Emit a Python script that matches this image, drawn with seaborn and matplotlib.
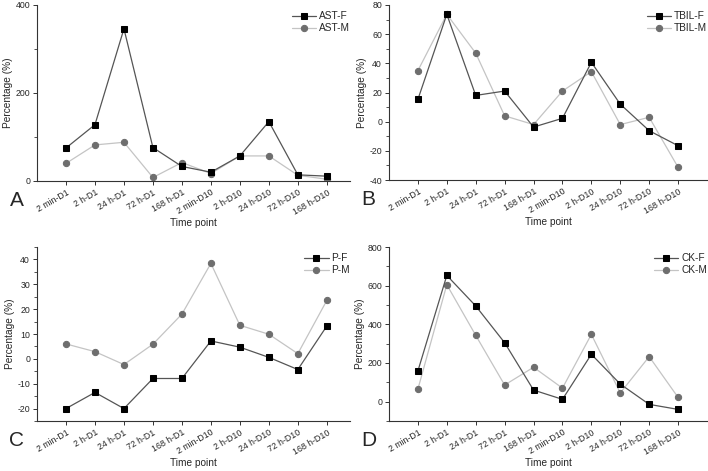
import numpy as np
import pandas as pd
import matplotlib
matplotlib.use("Agg")
import matplotlib.pyplot as plt
from matplotlib.ticker import MultipleLocator
import seaborn as sns

sns.set_style("ticks")
plt.rcParams['font.family'] = ['Liberation Sans', 'DejaVu Sans']
plt.rcParams['axes.unicode_minus'] = False

categories = ["2 min-D1", "2 h-D1", "24 h-D1", "72 h-D1", "168 h-D1",
              "2 min-D10", "2 h-D10", "24 h-D10", "72 h-D10", "168 h-D10"]

ast_f = [75, 128, 346, 76, 33, 20, 57, 135, 14, 11]
ast_m = [40, 82, 88, 8, 42, 17, 57, 57, 13, 4]
tbil_f = [15.3, 73.6, 18, 21, -3.7, 2.3, 40.7, 12, -6.2, -16.5]
tbil_m = [35, 73.6, 47, 4, -2, 21, 34.3, -2, 3, -31.3]
p_f = [-20, -13.5, -20, -7.9, -7.9, 7.2, 4.7, 0.6, -4.3, 13.2]
p_m = [6, 2.9, -2.3, 5.9, 18, 38.4, 13.5, 9.9, 2.1, 23.5]
ck_f = [159, 653, 495, 305, 60, 12, 245, 91, -14, -40]
ck_m = [65, 605, 343, 86, 178, 70, 348, 45, 233, 22]

panels = [
    ("A", "AST", ast_f, ast_m, (0, 400), 200, 100),
    ("B", "TBIL", tbil_f, tbil_m, (-40, 80), 20, 10),
    ("C", "P", p_f, p_m, (-25, 45), 10, 5),
    ("D", "CK", ck_f, ck_m, (-100, 800), 200, 100),
]

W, H = 708, 471
fig = plt.figure(figsize=(W / 100, H / 100), dpi=100)

boxes = {
    "A": (37, 350, 5, 181),
    "B": (389, 707, 5, 180),
    "C": (37, 350, 247, 421),
    "D": (389, 707, 247, 421),
}

for letter, name, fvals, mvals, ylim, major, minor in panels:
    l, r, t, b = boxes[letter]
    ax = fig.add_axes([l / W, 1 - b / H, (r - l) / W, (b - t) / H])
    df = pd.DataFrame({"time": categories, "F": fvals, "M": mvals})
    sns.lineplot(data=df, x="time", y="M", ax=ax, color="#c4c4c4",
                 marker="o", markersize=4.5, markerfacecolor="#6e6e6e",
                 markeredgecolor="#6e6e6e", linewidth=0.9, sort=False,
                 label=f"{name}-M")
    sns.lineplot(data=df, x="time", y="F", ax=ax, color="#555555",
                 marker="s", markersize=4.5, markerfacecolor="black",
                 markeredgecolor="black", linewidth=0.9, sort=False,
                 label=f"{name}-F")
    ax.set_xlim(-1, 10 if letter in "BD" else 9.8)
    ax.set_ylim(*ylim)
    ax.yaxis.set_major_locator(MultipleLocator(major))
    ax.yaxis.set_minor_locator(MultipleLocator(minor))
    ax.set_xticks(range(len(categories)))
    ax.set_xticklabels(categories, rotation=30, ha="right",
                       rotation_mode="anchor", fontsize=6.3)
    ax.tick_params(axis="y", which="major", labelsize=6.3, length=3,
                   width=0.7, pad=2, color="#333333")
    ax.tick_params(axis="y", which="minor", length=2, width=0.6,
                   color="#333333", left=True)
    ax.tick_params(axis="x", length=3, width=0.7, pad=2, color="#333333")
    for s in ("top", "right"):
        ax.spines[s].set_visible(False)
    for s in ("left", "bottom"):
        ax.spines[s].set_linewidth(0.8)
        ax.spines[s].set_color("#333333")
    ax.set_xlabel("Time point", fontsize=7.3, labelpad=1)
    ax.set_ylabel("Percentage (%)", fontsize=7.3, labelpad=2)
    handles, labels = ax.get_legend_handles_labels()
    ax.legend(handles[::-1], labels[::-1], loc="upper right", frameon=False,
              fontsize=7.3, handlelength=2.4, handletextpad=0.3,
              labelspacing=0.2, borderaxespad=0.2,
              bbox_to_anchor=(1.02, 1.0))
    ax.text(-0.065, -0.11, letter, transform=ax.transAxes, fontsize=15,
            ha="center", va="center")

fig.savefig("out.png", dpi=100)
